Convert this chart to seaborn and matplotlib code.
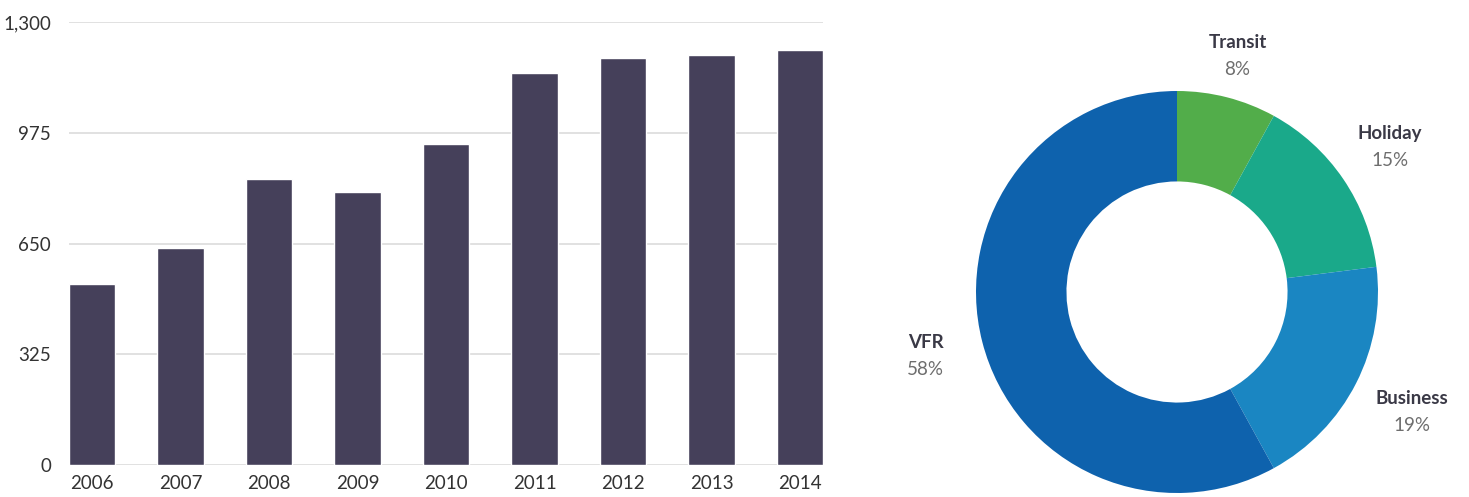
import numpy as np
import pandas as pd
import matplotlib
matplotlib.use("Agg")
import matplotlib.pyplot as plt
import seaborn as sns

# Arrivals per year
years = ["2006", "2007", "2008", "2009", "2010", "2011", "2012", "2013", "2014"]
arrivals = [531, 637, 839, 801, 942, 1150, 1195, 1203, 1218]
y_ticks = [0, 325, 650, 975, 1300]
y_tick_labels = ["0", "325", "650", "975", "1,300"]

# Purpose of visit shares (clockwise from the top)
purposes = ["Transit", "Holiday", "Business", "VFR"]
shares = [8, 15, 19, 58]
purpose_colors = ["#52ad4a", "#1aa98a", "#1a86c2", "#0e62ad"]

sns.set_theme(style="white")
plt.rcParams["font.family"] = ["Lato", "DejaVu Sans"]

W, H = 1469, 497
fig = plt.figure(figsize=(W / 100, H / 100), dpi=100)

# ---- bar chart ----
ax = fig.add_axes([69 / W, 1 - 465 / H, (823 - 69) / W, (465 - 22) / H])
df = pd.DataFrame({"year": years, "arrivals": arrivals})
sns.barplot(data=df, x="year", y="arrivals", color="#45405a", saturation=1,
            width=0.52, ax=ax, zorder=3)
ax.set_xlim(-0.26, len(years) - 1 + 0.26)
ax.set_ylim(0, 1300)
ax.set_yticks(y_ticks)
ax.set_yticklabels(y_tick_labels)
ax.yaxis.grid(True, color="#dcdcdc", linewidth=1.2, zorder=0)
ax.set_axisbelow(True)
for s in ax.spines.values():
    s.set_visible(False)
ax.set_xlabel("")
ax.set_ylabel("")
ax.tick_params(axis="y", length=0, pad=13, labelsize=13.5, labelcolor="#333333")
ax.tick_params(axis="x", length=0, pad=7, labelsize=13.5, labelcolor="#333333")

# ---- donut chart ----
x0 = 880
cx, cy = 1177, H - 292
R = 201.0
ax2 = fig.add_axes([x0 / W, 0, (W - x0) / W, 1])
wedges, _ = ax2.pie(shares, colors=purpose_colors, startangle=90, counterclock=False,
                    radius=1, wedgeprops=dict(width=0.45, linewidth=0))
ax2.set_xlim((x0 - cx) / R, (W - cx) / R)
ax2.set_ylim((0 - cy) / R, (H - cy) / R)
ax2.set_aspect("auto")
ax2.axis("off")

# label distance from the centre, per slice
label_radii = [1.21, 1.28, 1.31, 1.29]
gap = 13.5 / R
for w, name, pct, lr in zip(wedges, purposes, shares, label_radii):
    mid = np.deg2rad((w.theta1 + w.theta2) / 2)
    lx, ly = lr * np.cos(mid), lr * np.sin(mid)
    ax2.text(lx, ly + gap, name, ha="center", va="center", fontsize=13.5,
             fontweight="bold", color="#3a3946")
    ax2.text(lx, ly - gap, f"{pct}%", ha="center", va="center", fontsize=13.5,
             color="#6e6e6e")

fig.savefig("out.png", dpi=100, facecolor="white")
